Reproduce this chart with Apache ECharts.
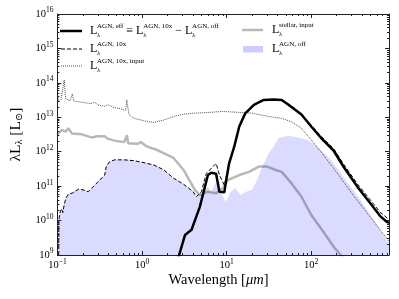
<!DOCTYPE html>
<html><head><meta charset="utf-8">
<script src="https://cdn.jsdelivr.net/npm/echarts@6/dist/echarts.min.js"></script>
<style>html,body{margin:0;padding:0;background:#fff}#c{width:399px;height:299px}</style>
</head><body><div id="c"></div>
<script>
// ---- data (wavelength in micron, lambda*L_lambda in L_sun) ----
const wlEff = [2.6, 3.22, 3.85, 4.82, 6.01, 6.57, 7.51, 8.22, 9.40, 9.66, 10.7, 12.3, 14.1, 16.6, 21.0, 27.4, 35.9, 44.8, 58.5, 76.5, 100, 131, 185, 242, 352, 499, 652, 785, 830];
const lEff = [6.3e8, 3.8e9, 5.4e9, 2.5e10, 2.1e11, 2.45e11, 2.3e11, 6.9e10, 6.6e10, 1.05e11, 4.6e11, 1.4e12, 5.4e12, 1.3e13, 2.3e13, 3.2e13, 3.3e13, 3.2e13, 2.0e13, 1.2e13, 5.4e12, 2.5e12, 1.05e12, 3.6e11, 9.5e10, 3.2e10, 1.35e10, 9.1e9, 8.5e9];

const wl10x = [0.1035, 0.104, 0.108, 0.112, 0.116, 0.120, 0.126, 0.135, 0.150, 0.177, 0.202, 0.231, 0.264, 0.316, 0.362, 0.378, 0.413, 0.472, 0.618, 0.807, 1.055, 1.38, 1.80, 2.36, 3.08, 4.02, 4.39, 5.03, 5.74, 7.51, 8.22, 9.40, 10.7, 12.3, 14.1, 16.6, 21.0, 27.4, 35.9, 44.8, 58.5, 76.5, 100, 131, 185, 242, 352, 499, 652, 785, 830];
const l10x = [3e8, 1.05e10, 1.8e10, 2.2e10, 1.7e10, 2.8e10, 4.5e10, 5.8e10, 6.3e10, 8.1e10, 7.8e10, 6.9e10, 9.5e10, 1.5e11, 2.1e11, 3.7e11, 5.1e11, 5.8e11, 5.8e11, 5.5e11, 4.8e11, 4.1e11, 3.0e11, 1.7e11, 1.15e11, 6.9e10, 4.9e10, 6.9e10, 2.3e11, 4.6e11, 2.1e11, 1.07e11, 4.6e11, 1.4e12, 5.4e12, 1.3e13, 2.3e13, 3.2e13, 3.3e13, 3.25e13, 2.15e13, 1.25e13, 5.9e12, 2.8e12, 1.2e12, 4.3e11, 1.15e11, 4.0e10, 1.75e10, 1.2e10, 1.1e10];

const wlInput = [0.1, 0.104, 0.110, 0.116, 0.1205, 0.125, 0.130, 0.141, 0.150, 0.156, 0.162, 0.20, 0.25, 0.277, 0.30, 0.36, 0.40, 0.45, 0.50, 0.55, 0.60, 0.64, 0.66, 0.70, 0.807, 1.055, 1.38, 1.80, 2.36, 3.08, 4.02, 5.26, 9.0, 20, 31.6, 44.8, 58.5, 76.5, 100, 130, 200, 300, 500, 830];
const lInput = [4.5e13, 2.8e13, 3.2e13, 3.5e13, 1.2e14, 3.5e13, 3.2e13, 3.0e13, 4.8e13, 3.0e13, 2.8e13, 2.7e13, 2.5e13, 2.75e13, 2.3e13, 2.1e13, 2.3e13, 2.0e13, 1.85e13, 1.8e13, 1.65e13, 1.6e13, 3.2e13, 1.2e13, 9.3e12, 7.9e12, 7.1e12, 8.3e12, 1.05e13, 1.23e13, 1.32e13, 1.35e13, 1.48e13, 1.32e13, 1.05e13, 9.3e12, 7.4e12, 4.8e12, 2.2e12, 1.0e12, 2.5e11, 6.3e10, 1.26e10, 2.5e9];

const wlStellar = [0.1, 0.1135, 0.125, 0.135, 0.148, 0.194, 0.253, 0.30, 0.362, 0.392, 0.472, 0.618, 0.650, 0.664, 0.687, 0.881, 0.966, 1.153, 1.51, 1.80, 2.36, 3.08, 3.68, 4.21, 4.82, 6.01, 7.51, 8.98, 10.3, 14.1, 18.4, 24.0, 30.0, 37.4, 44.8, 58.5, 76.5, 100, 142, 185, 223, 260];
const lStellar = [3.2e12, 4.3e12, 3.8e12, 4.8e12, 3.4e12, 3.2e12, 2.6e12, 2.8e12, 2.8e12, 2.4e12, 2.1e12, 1.9e12, 1.85e12, 3.0e12, 1.75e12, 1.7e12, 1.9e12, 1.4e12, 1.12e12, 9.1e11, 6.6e11, 3.0e11, 1.4e11, 7.8e10, 5.5e10, 6.9e10, 6.2e10, 8.7e10, 1.5e11, 2.1e11, 2.6e11, 3.7e11, 3.7e11, 3.0e11, 2.6e11, 1.2e11, 5.0e10, 1.45e10, 4.4e9, 1.7e9, 1.0e9, 6.3e8];

const wlOff = [0.1035, 0.108, 0.112, 0.116, 0.120, 0.126, 0.135, 0.150, 0.177, 0.202, 0.231, 0.264, 0.316, 0.362, 0.378, 0.413, 0.472, 0.618, 0.807, 1.055, 1.38, 1.80, 2.36, 3.08, 4.02, 4.39, 5.26, 6.01, 6.57, 7.51, 8.51, 9.73, 11.1, 12.7, 14.6, 16.6, 20.0, 22.9, 26.2, 31.6, 35.9, 41.0, 53.6, 70.0, 91.6, 114, 131, 171, 256, 380, 566, 830];
const lOff = [1.05e10, 1.8e10, 2.2e10, 1.7e10, 2.8e10, 4.5e10, 5.8e10, 6.3e10, 8.1e10, 7.8e10, 6.9e10, 9.5e10, 1.5e11, 2.1e11, 3.7e11, 5.1e11, 5.8e11, 5.8e11, 5.5e11, 4.8e11, 4.1e11, 3.0e11, 1.7e11, 1.15e11, 6.9e10, 4.6e10, 7.8e10, 9.4e10, 6.8e10, 1.3e11, 6.8e10, 3.5e10, 6.8e10, 8.9e10, 5.5e10, 6.8e10, 7.8e10, 1.5e11, 3.6e11, 9.1e11, 1.4e12, 2.5e12, 2.9e12, 2.6e12, 2.2e12, 1.5e12, 1.1e12, 5.8e11, 1.5e11, 4.0e10, 9.1e9, 2.2e9];

const xMajor = [0.1, 1, 10, 100];
const xMinor = [0.2,0.3,0.4,0.5,0.6,0.7,0.8,0.9,2,3,4,5,6,7,8,9,20,30,40,50,60,70,80,90,200,300,400,500,600,700,800];
const yMajor = [1e9, 1e10, 1e11, 1e12, 1e13, 1e14, 1e15, 1e16];
const yMinor = [];
for (let e = 9; e < 16; e++) for (let k = 2; k <= 9; k++) yMinor.push(k * Math.pow(10, e));

const X_MIN = 0.09999999, X_MAX = 830, Y_MIN = 0.9999999e9, Y_MAX = 1.0000001e16;
const SERIF = "'Liberation Serif', 'DejaVu Serif', serif";
const AX = '#222';

const pair = (xs, ys) => xs.map((x, i) => [x, ys[i]]);
const expLabel = v => { const e = Math.round(Math.log10(v)); return '{b|10}{s|' + (e < 0 ? '\u2212' + (-e) : e) + '}'; };
const richLab = { b: { fontFamily: SERIF, fontSize: 10.5, color: '#000' }, s: { fontFamily: SERIF, fontSize: 7.5, color: '#000', padding: [0, 0, 7, 0] } };

function xAx(pos, vals, len, line, labels) {
  return {
    type: 'log', logBase: 10, gridIndex: 0, position: pos, min: X_MIN, max: X_MAX,
    axisLine: { show: line, lineStyle: { color: AX, width: 1 } },
    axisTick: { show: true, inside: true, length: len, customValues: vals, lineStyle: { color: AX, width: 1 } },
    axisLabel: labels ? { show: true, customValues: vals, formatter: expLabel, rich: richLab, margin: 3 } : { show: false },
    splitLine: { show: false }, minorTick: { show: false }
  };
}
function yAx(pos, vals, len, line, labels) {
  return {
    type: 'log', logBase: 10, gridIndex: 0, position: pos, min: Y_MIN, max: Y_MAX,
    axisLine: { show: line, lineStyle: { color: AX, width: 1 } },
    axisTick: { show: true, inside: true, length: len, customValues: vals, lineStyle: { color: AX, width: 1 } },
    axisLabel: labels ? { show: true, customValues: vals, formatter: expLabel, rich: richLab, margin: 4 } : { show: false },
    splitLine: { show: false }, minorTick: { show: false }
  };
}

const xAxes = [xAx('bottom', xMajor, 4, true, true), xAx('bottom', xMinor, 2, false, false), xAx('top', xMajor, 4, true, false), xAx('top', xMinor, 2, false, false)];
const yAxes = [yAx('left', yMajor, 4, true, true), yAx('left', yMinor, 2, false, false), yAx('right', yMajor, 4, true, false), yAx('right', yMinor, 2, false, false)];
yAxes[0].name = '\u03bbL{sub|\u03bb} [L{sub|\u2299}]';
yAxes[0].nameLocation = 'middle';
yAxes[0].nameRotate = 90;
yAxes[0].nameGap = 32;
yAxes[0].nameTextStyle = { fontFamily: SERIF, fontSize: 15.5, color: '#000', rich: { sub: { fontFamily: SERIF, fontSize: 10, color: '#000', padding: [7, 0, 0, 0] } } };

// legend built as graphic text (stacked super/subscripts), widths measured
const mctx = document.createElement('canvas').getContext('2d');
function tw(t, size) { mctx.font = size + 'px ' + SERIF; return mctx.measureText(t).width; }
const MAIN = 12, SUP = 7;
function legendText(x0, cy, parts) {
  const els = []; let x = x0;
  parts.forEach(p => {
    if (p[0] === 'L') {
      els.push({ type: 'text', x: x, y: cy, style: { text: 'L', font: MAIN + 'px ' + SERIF, fill: '#000', verticalAlign: 'middle' } });
      const sx = x + tw('L', MAIN) - 0.3;
      els.push({ type: 'text', x: sx, y: cy - 4.5, style: { text: p[1], font: SUP + 'px ' + SERIF, fill: '#000', verticalAlign: 'middle' } });
      els.push({ type: 'text', x: sx, y: cy + 4.2, style: { text: '\u03bb', font: SUP + 'px ' + SERIF, fill: '#000', verticalAlign: 'middle' } });
      x = sx + Math.max(tw(p[1], SUP), tw('\u03bb', SUP));
    } else {
      x += 3;
      els.push({ type: 'text', x: x, y: cy, style: { text: p[1], font: MAIN + 'px ' + SERIF, fill: '#000', verticalAlign: 'middle' } });
      x += tw(p[1], MAIN) + 3;
    }
  });
  return els;
}
// x-axis title, placed as centred text
const xTitleMain = 'Wavelength [', xTitleIt = '\u03bcm', xTitleEnd = ']';
function xTitle(cx, cy) {
  const fs = 14.5;
  mctx.font = fs + 'px ' + SERIF; const w1 = mctx.measureText(xTitleMain).width, w3 = mctx.measureText(xTitleEnd).width;
  mctx.font = 'italic ' + fs + 'px ' + SERIF; const w2 = mctx.measureText(xTitleIt).width;
  const x0 = cx - (w1 + w2 + w3) / 2;
  return [
    { type: 'text', x: x0, y: cy, style: { text: xTitleMain, font: fs + 'px ' + SERIF, fill: '#000', verticalAlign: 'middle' } },
    { type: 'text', x: x0 + w1, y: cy, style: { text: xTitleIt, font: 'italic ' + fs + 'px ' + SERIF, fill: '#000', verticalAlign: 'middle' } },
    { type: 'text', x: x0 + w1 + w2, y: cy, style: { text: xTitleEnd, font: fs + 'px ' + SERIF, fill: '#000', verticalAlign: 'middle' } }
  ];
}
const graphics = [].concat(
  [{ type: 'line', shape: { x1: 60, y1: 31, x2: 82, y2: 31 }, style: { stroke: '#000', lineWidth: 2.5 } }],
  legendText(90, 31, [['L', 'AGN, eff'], ['s', '\u2261'], ['L', 'AGN, 10x'], ['s', '\u2212'], ['L', 'AGN, off']]),
  [{ type: 'line', shape: { x1: 61, y1: 49, x2: 82, y2: 49 }, style: { stroke: '#000', lineWidth: 1, lineDash: [4, 2] } }],
  legendText(90, 49, [['L', 'AGN, 10x']]),
  [{ type: 'line', shape: { x1: 61, y1: 66, x2: 82, y2: 66 }, style: { stroke: '#000', lineWidth: 0.7, lineDash: [1, 1] } }],
  legendText(90, 66, [['L', 'AGN, 10x, input']]),
  [{ type: 'line', shape: { x1: 242, y1: 30, x2: 263, y2: 30 }, style: { stroke: 'rgba(0,0,0,0.28)', lineWidth: 2.5 } }],
  legendText(272, 30, [['L', 'stellar, input']]),
  [{ type: 'rect', shape: { x: 243, y: 46, width: 20, height: 6.5 }, style: { fill: 'rgba(0,0,255,0.2)' } }],
  legendText(272, 49, [['L', 'AGN, off']]),
  xTitle(218.5, 280)
);

const chart = echarts.init(document.getElementById('c'), null, { renderer: 'canvas' });
chart.setOption({
  animation: false,
  backgroundColor: '#fff',
  grid: { left: 52, top: 14, width: 337, height: 241, containLabel: false },
  xAxis: xAxes,
  yAxis: yAxes,
  graphic: graphics,
  series: [
    { name: 'off', type: 'line', data: pair(wlOff, lOff), symbol: 'none', clip: true, z: 1,
      lineStyle: { width: 0, color: 'rgba(0,0,255,0)' }, areaStyle: { color: 'rgba(0,0,255,0.2)', origin: 'start' } },
    { name: 'stellar', type: 'line', data: pair(wlStellar, lStellar), symbol: 'none', clip: true, z: 2,
      lineStyle: { width: 2.5, color: 'rgba(0,0,0,0.28)' } },
    { name: 'input', type: 'line', data: pair(wlInput, lInput), symbol: 'none', clip: true, z: 3,
      lineStyle: { width: 0.7, color: '#000', type: [1, 1] } },
    { name: '10x', type: 'line', data: pair(wl10x, l10x), symbol: 'none', clip: true, z: 4,
      lineStyle: { width: 1, color: '#000', type: [4, 2] } },
    { name: 'eff', type: 'line', data: pair(wlEff, lEff), symbol: 'none', clip: true, z: 5,
      lineStyle: { width: 2.5, color: '#000' } }
  ]
});
</script></body></html>
